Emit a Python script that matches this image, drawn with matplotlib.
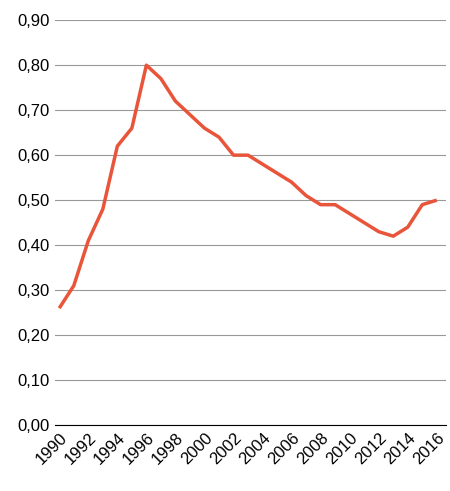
import matplotlib
matplotlib.use("Agg")
import matplotlib.pyplot as plt
plt.rcParams['font.family'] = ['Liberation Sans', 'DejaVu Sans']

years = list(range(1990, 2017))
values = [0.26, 0.31, 0.41, 0.48, 0.62, 0.66, 0.80, 0.77, 0.72, 0.69, 0.66, 0.64, 0.60, 0.60,
          0.58, 0.56, 0.54, 0.51, 0.49, 0.49, 0.47, 0.45, 0.43, 0.42, 0.44, 0.49, 0.50]
yticks = [i / 10 for i in range(10)]
xticks = list(range(1990, 2017, 2))

fig = plt.figure(figsize=(4.5, 4.91), dpi=100)
ax = fig.add_axes([0.122, 0.134, 0.868, 0.825])
ax.plot(years, values, color="#E8553A", lw=2.5, solid_capstyle="butt")
ax.set_ylim(0, 0.9)
ax.set_xlim(1989.7, 2016.6)
ax.set_yticks(yticks)
ax.set_yticklabels([f"{v:.2f}".replace(".", ",") for v in yticks], fontsize=12)
ax.set_xticks(xticks)
ax.set_xticklabels([str(x) for x in xticks], rotation=45, ha="right", rotation_mode="anchor", fontsize=12)
ax.grid(axis="y", color="#999999", lw=0.8)
ax.set_axisbelow(True)
for s in ["left", "right", "top"]:
    ax.spines[s].set_visible(False)
ax.spines["bottom"].set_color("black")
ax.tick_params(axis="y", length=0)
ax.tick_params(axis="x", length=0)
fig.savefig("out.png", dpi=100)
